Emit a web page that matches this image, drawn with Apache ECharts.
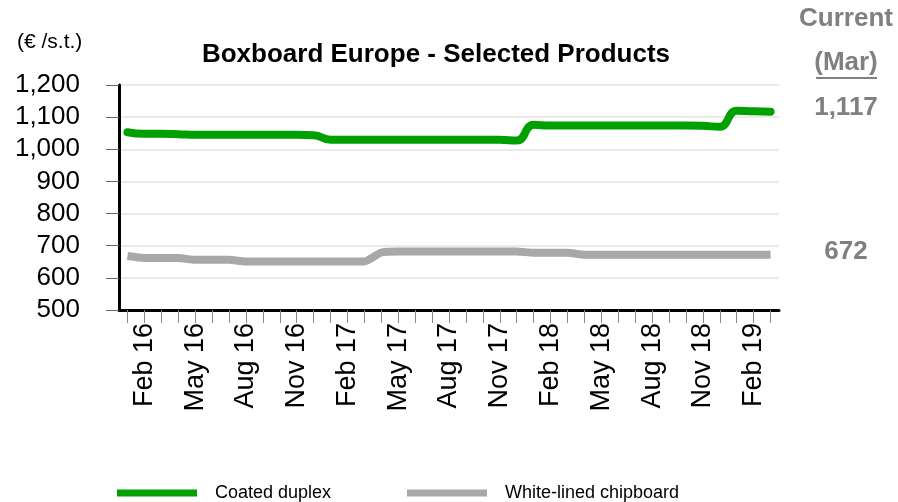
<!DOCTYPE html>
<html>
<head>
<meta charset="utf-8">
<script src="https://cdn.jsdelivr.net/npm/echarts@6/dist/echarts.min.js"></script>
<style>
html,body{margin:0;padding:0;background:#fff;}
#chart{width:898px;height:502px;}
</style>
</head>
<body>
<div id="chart"></div>
<script>
const months = ['Jan 16','Feb 16','Mar 16','Apr 16','May 16','Jun 16','Jul 16','Aug 16','Sep 16','Oct 16','Nov 16','Dec 16',
  'Jan 17','Feb 17','Mar 17','Apr 17','May 17','Jun 17','Jul 17','Aug 17','Sep 17','Oct 17','Nov 17','Dec 17',
  'Jan 18','Feb 18','Mar 18','Apr 18','May 18','Jun 18','Jul 18','Aug 18','Sep 18','Oct 18','Nov 18','Dec 18',
  'Jan 19','Feb 19','Mar 19'];
const coatedDuplex = [1053,1048,1048,1047,1045,1045,1045,1045,1045,1045,1045,1044,
  1030,1030,1030,1030,1030,1030,1030,1030,1030,1030,1030,1027,
  1076,1074,1074,1074,1074,1074,1074,1074,1074,1074,1073,1070,
  1120,1118,1117];
const whiteLinedChipboard = [668,662,662,662,656,656,656,651,651,651,651,651,
  651,651,651,679,682,682,682,682,682,682,682,682,
  678,678,678,672,672,672,672,672,672,672,672,672,
  672,672,672];
const currentLabel = 'Current';
const currentMonth = '(Mar)';
const currentCoated = '1,117';
const currentWhite = '672';

const FONT = "'Liberation Sans Narrow','Arial Narrow','Liberation Sans',Arial,sans-serif";
const GREEN = '#00a000';
const GREY = '#a8a8a8';

const chart = echarts.init(document.getElementById('chart'));
chart.setOption({
  animation: false,
  backgroundColor: '#fff',
  title: {
    text: 'Boxboard Europe - Selected Products',
    left: 431, top: 37, textAlign: 'center',
    textStyle: {fontFamily: FONT, fontWeight: 'bold', fontSize: 26, color: '#000'}
  },
  legend: [
    {left: 117, top: 484, padding: 0, itemWidth: 80, itemHeight: 7, itemGap: 0,
     data: [{name: 'Coated duplex', icon: 'rect'}],
     textStyle: {fontFamily: FONT, fontSize: 18, color: '#000', padding: [0,0,0,13]}},
    {left: 407, top: 484, padding: 0, itemWidth: 80, itemHeight: 7, itemGap: 0,
     data: [{name: 'White-lined chipboard', icon: 'rect'}],
     textStyle: {fontFamily: FONT, fontSize: 18, color: '#000', padding: [0,0,0,13]}}
  ],
  grid: {left: 119, right: 119, top: 85, bottom: 192, containLabel: false},
  xAxis: {
    type: 'category',
    data: months,
    boundaryGap: true,
    axisLine: {lineStyle: {color: '#000', width: 3}},
    axisTick: {show: true, interval: 0, alignWithLabel: true, length: 13, lineStyle: {color: '#888', width: 1}},
    axisLabel: {
      interval: (i) => i % 3 === 1,
      rotate: 90, margin: 13,
      fontFamily: FONT, fontSize: 27, color: '#000'
    },
    splitLine: {show: false}
  },
  yAxis: {
    type: 'value',
    min: 500, max: 1200, interval: 100,
    axisLine: {show: true, lineStyle: {color: '#000', width: 3}},
    axisTick: {show: true, length: 13, lineStyle: {color: '#666', width: 1}},
    axisLabel: {
      margin: 39, fontFamily: FONT, fontSize: 26, color: '#000',
      formatter: (v) => v.toLocaleString('en-US')
    },
    splitLine: {lineStyle: {color: '#e3e3e3', width: 1.5}}
  },
  series: [
    {name: 'Coated duplex', type: 'line', data: coatedDuplex, smooth: 0.5,
     showSymbol: false, color: GREEN,
     lineStyle: {color: GREEN, width: 8, cap: 'round', join: 'round'}},
    {name: 'White-lined chipboard', type: 'line', data: whiteLinedChipboard, smooth: 0.2,
     showSymbol: false, color: GREY,
     lineStyle: {color: GREY, width: 8, cap: 'butt', join: 'round'}}
  ],
  graphic: [
    {type: 'text', left: 17, top: 32,
     style: {text: '(€ /s.t.)', fontFamily: FONT, fontSize: 21, fill: '#000'}},
    {type: 'text', x: 846, y: 19,
     style: {text: currentLabel, fontFamily: FONT, fontWeight: 'bold', fontSize: 26, fill: '#808080', align: 'center', verticalAlign: 'middle'}},
    {type: 'text', x: 846, y: 63,
     style: {text: currentMonth, fontFamily: FONT, fontWeight: 'bold', fontSize: 26, fill: '#808080', align: 'center', verticalAlign: 'middle'}},
    {type: 'line', shape: {x1: 816, y1: 78, x2: 877, y2: 78},
     style: {stroke: '#808080', lineWidth: 2}},
    {type: 'text', x: 846, y: 108,
     style: {text: currentCoated, fontFamily: FONT, fontWeight: 'bold', fontSize: 26, fill: '#808080', align: 'center', verticalAlign: 'middle'}},
    {type: 'text', x: 846, y: 252,
     style: {text: currentWhite, fontFamily: FONT, fontWeight: 'bold', fontSize: 26, fill: '#808080', align: 'center', verticalAlign: 'middle'}}
  ]
});
</script>
</body>
</html>
